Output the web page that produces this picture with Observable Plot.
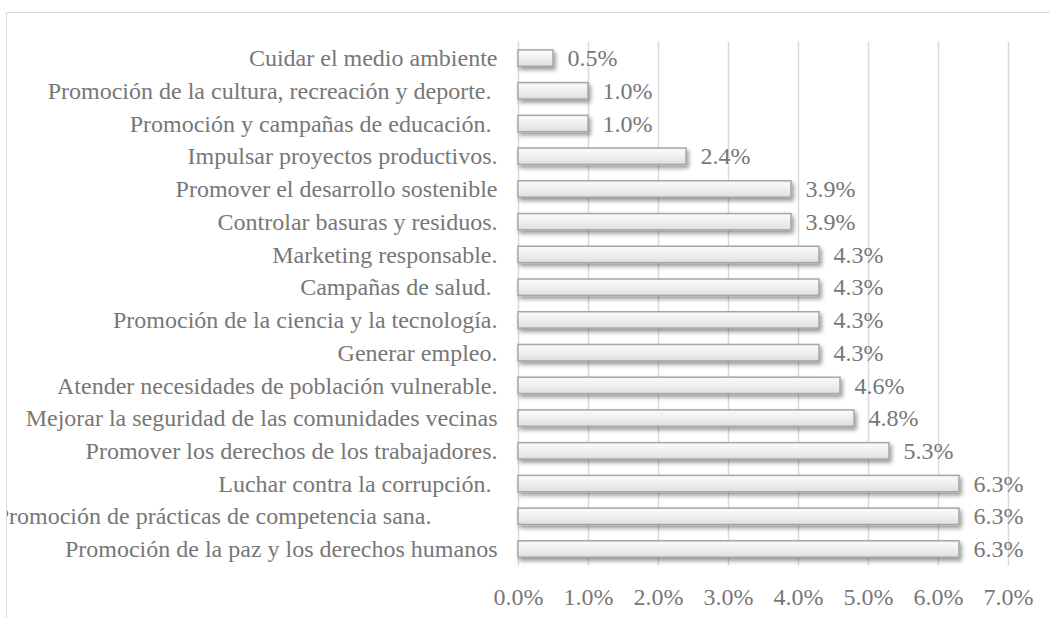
<!DOCTYPE html>
<html>
<head>
<meta charset="utf-8">
<script src="https://cdn.jsdelivr.net/npm/d3@7"></script>
<script src="https://cdn.jsdelivr.net/npm/@observablehq/plot@0.6"></script>
<style>
  html, body { margin: 0; padding: 0; background: #fff; overflow: hidden; }
  #frame { position: absolute; left: 6px; top: 12px; width: 1200px; height: 800px; border: 1.3px solid #d9d9d9; overflow: hidden; }
  #chart { position: absolute; left: -7px; top: -13px; }
  #chart svg text { font-family: "Liberation Serif", "Times New Roman", serif; font-variant: normal; white-space: pre; }
</style>
</head>
<body>
<div id="frame"><div id="chart"></div></div>
<script>
const categories = [
  "Cuidar el medio ambiente",
  "Promoción de la cultura, recreación y deporte.\u00a0",
  "Promoción y campañas de educación.\u00a0",
  "Impulsar proyectos productivos.",
  "Promover el desarrollo sostenible",
  "Controlar basuras y residuos.",
  "Marketing responsable.",
  "Campañas de salud.\u00a0",
  "Promoción de la ciencia y la tecnología.",
  "Generar empleo.",
  "Atender necesidades de población vulnerable.",
  "Mejorar la seguridad de las comunidades vecinas",
  "Promover los derechos de los trabajadores.",
  "Luchar contra la corrupción.\u00a0",
  "Promoción de prácticas de competencia sana.\u00a0\u00a0\u00a0\u00a0\u00a0\u00a0\u00a0\u00a0\u00a0\u00a0\u00a0",
  "Promoción de la paz y los derechos humanos"
];
const values = [0.5, 1.0, 1.0, 2.4, 3.9, 3.9, 4.3, 4.3, 4.3, 4.3, 4.6, 4.8, 5.3, 6.3, 6.3, 6.3];
const xTicks = [0, 0.01, 0.02, 0.03, 0.04, 0.05, 0.06, 0.07];

const data = categories.map((c, i) => ({label: c, value: values[i] / 100}));
const fmt = d3.format(".1%");
const textColor = "#777777";

const chart = Plot.plot({
  width: 1050,
  height: 618,
  marginLeft: 518,
  marginRight: 42,
  marginTop: 41.7,
  marginBottom: 52.6,
  style: {fontFamily: "Liberation Serif", fontSize: "24px", color: textColor, background: "transparent"},
  x: {domain: [0, 0.07], label: null},
  y: {domain: categories, paddingInner: 0.5, paddingOuter: 0.25, round: false, label: null},
  marks: [
    Plot.gridX(xTicks, {stroke: "#d9d9d9", strokeOpacity: 1, strokeWidth: 1.5}),
    Plot.barX(data, {x: "value", y: "label", fill: "url(#barGrad)", stroke: "#a6a6a6", strokeWidth: 1.5}),
    Plot.text(data, {x: "value", y: "label", text: d => fmt(d.value), dx: 14, textAnchor: "start", fill: textColor, fontSize: 24}),
    Plot.axisX({ticks: xTicks, tickFormat: ".1%", tickSize: 0, tickPadding: 22, fontSize: 24, fill: textColor, label: null}),
    Plot.axisY({tickSize: 0, tickPadding: 21, fontSize: 24, fill: textColor, label: null})
  ]
});

const svg = d3.select(chart);
const defs = svg.insert("defs", ":first-child");
const grad = defs.append("linearGradient").attr("id", "barGrad").attr("x1", 0).attr("y1", 0).attr("x2", 0).attr("y2", 1);
grad.append("stop").attr("offset", "0%").attr("stop-color", "#fbfbfb");
grad.append("stop").attr("offset", "50%").attr("stop-color", "#efefef");
grad.append("stop").attr("offset", "100%").attr("stop-color", "#dedede");
const filt = defs.append("filter").attr("id", "barShadow").attr("x", "-10%").attr("y", "-50%").attr("width", "130%").attr("height", "250%");
filt.append("feDropShadow").attr("dx", 2).attr("dy", 3).attr("stdDeviation", 2).attr("flood-color", "#000").attr("flood-opacity", 0.4);
svg.selectAll("g[aria-label='bar']").attr("filter", "url(#barShadow)");

document.getElementById("chart").appendChild(chart);
</script>
</body>
</html>
